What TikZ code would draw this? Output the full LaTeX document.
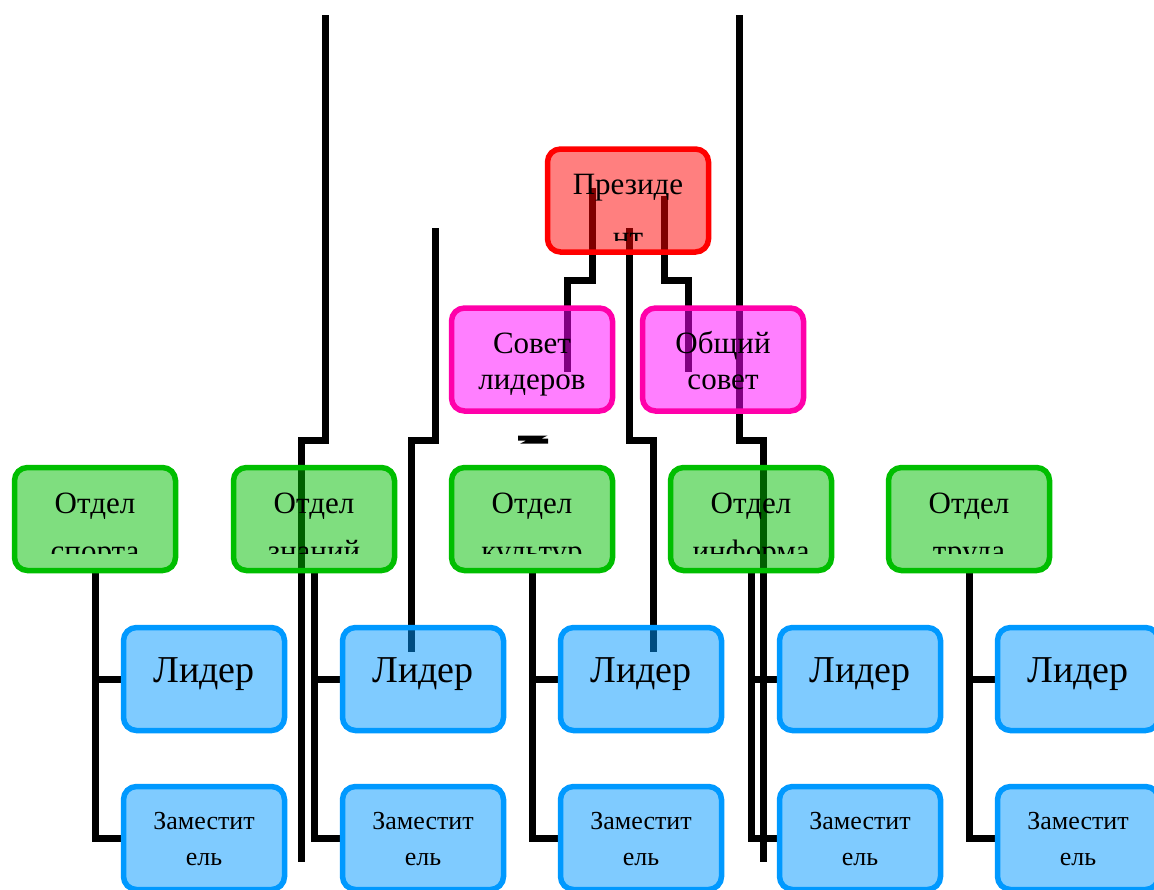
\documentclass[tikz,border=0pt]{standalone}
\usepackage{fontspec}
\setmainfont{Liberation Serif}
\pgfdeclarelayer{bg}
\pgfsetlayers{bg,main}
\definecolor{presc}{RGB}{255,0,0}
\definecolor{councilc}{RGB}{255,0,170}
\definecolor{councilf}{RGB}{255,0,255}
\definecolor{deptc}{RGB}{0,190,0}
\definecolor{leadc}{RGB}{0,153,255}
\tikzset{
  box/.style={rectangle, rounded corners=13pt, line width=5.5pt, minimum width=161pt,
    minimum height=103pt, inner sep=0pt, fill opacity=0.5, draw opacity=1},
  presbox/.style={box, draw=presc, fill=presc},
  councilbox/.style={box, draw=councilc, fill=councilf},
  deptbox/.style={box, draw=deptc, fill=deptc},
  leadbox/.style={box, draw=leadc, fill=leadc},
  conn/.style={line width=7pt, draw=black},
  lbl/.style={anchor=base, align=center, inner sep=0pt, text=black},
  big/.style={font=\fontsize{31}{53}\selectfont},
  dep/.style={font=\fontsize{31}{48}\selectfont},
  mid/.style={font=\fontsize{31}{36}\selectfont},
  huge/.style={font=\fontsize{38}{44}\selectfont},
  small/.style={font=\fontsize{26}{36}\selectfont},
}
\begin{document}
\begin{tikzpicture}[x=1pt,y=-1pt]
\useasboundingbox (0,0) rectangle (1154,889);
\begin{pgfonlayer}{bg}
  \fill[white] (0,0) rectangle (1154,889);
\end{pgfonlayer}

% nodes
\node[presbox] (pres) at (628,200.5) {};
\node[councilbox] (sovet) at (532,359.5) {};
\node[councilbox] (obsh) at (723,359.5) {};
\foreach \i/\x in {1/95,2/314,3/532,4/751,5/969}{
  \node[deptbox] (g\i) at (\x,519) {};
}
\foreach \i/\x in {1/204,2/423,3/641,4/860,5/1078}{
  \node[leadbox] (l\i) at (\x,679) {};
  \node[leadbox] (z\i) at (\x,838) {};
}

% texts (anchor = baseline of the last line)
\begin{scope}
  \clip (545,147) rectangle (711,240);
  \node[lbl,big] (tpres) at (628,247) {Президе\\нт};
\end{scope}
\node[lbl,mid] (tsovet) at (532,389) {Совет\\лидеров};
\node[lbl,mid] (tobsh) at (723,389) {Общий\\совет};
\foreach \i/\x/\t in {1/95/спорта,2/314/знаний,3/532/культур,4/751/информа,5/969/труда}{
  \begin{scope}
    \clip (\x-83,465) rectangle (\x+83,553);
    \node[lbl,dep] (tg\i) at (\x,561) {Отдел\\\t};
  \end{scope}
}
\foreach \i/\x in {1/204,2/423,3/641,4/860,5/1078}{
  \node[lbl,huge] (tl\i) at (\x,682) {Лидер};
  \node[lbl,small] (tz\i) at (\x,865) {Заместит\\ель};
}

% free ends of the stray connectors
\coordinate (a0) at (325,15);  \coordinate (a1) at (301,862);
\coordinate (b0) at (435,228); \coordinate (b1) at (411,652);
\coordinate (d0) at (629,228); \coordinate (d1) at (653,652);
\coordinate (e0) at (592,188); \coordinate (e1) at (567,372);
\coordinate (f0) at (664,196); \coordinate (f1) at (688,372);
\coordinate (h0) at (739,15);  \coordinate (h1) at (763,862);
\coordinate (c0) at (518,438); \coordinate (c1) at (548,441);

\begin{pgfonlayer}{bg}
  \draw[conn] (a0) -- (a0 |- 0,440) -- (a1 |- 0,440) -- (a1);
  \draw[conn] (b0) -- (b0 |- 0,440) -- (b1 |- 0,440) -- (b1);
  \draw[conn] (d0) -- (d0 |- 0,440) -- (d1 |- 0,440) -- (d1);
  \draw[conn] (e0) -- (e0 |- 0,280) -- (e1 |- 0,280) -- (e1);
  \draw[conn] (f0) -- (f0 |- 0,280) -- (f1 |- 0,280) -- (f1);
  \draw[conn] (h0) -- (h0 |- 0,440) -- (h1 |- 0,440) -- (h1);
  \draw[line width=5pt] (c0) -- (537,438) -- (531,441) -- (c1);
  \foreach \i in {1,...,5}{
    \draw[conn] (g\i.south) |- (l\i.west);
    \draw[conn] (g\i.south) |- (z\i.west);
  }
\end{pgfonlayer}
\end{tikzpicture}
\end{document}
